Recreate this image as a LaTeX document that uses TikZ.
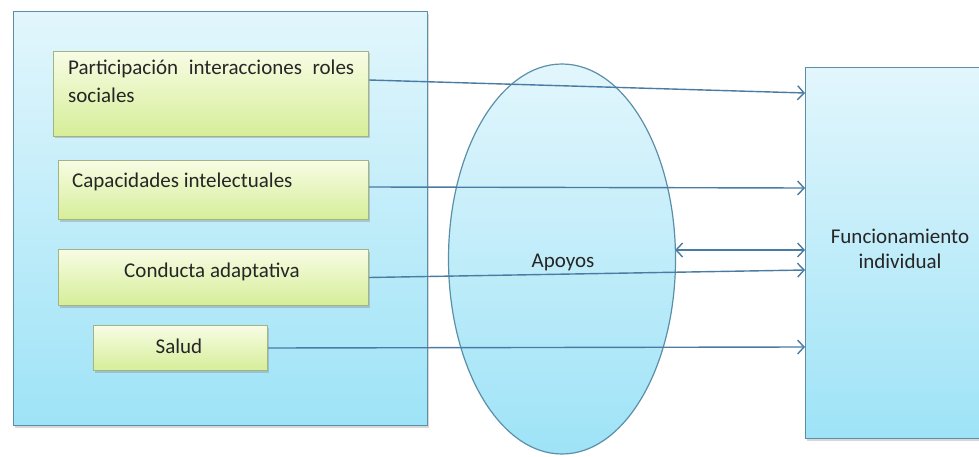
\documentclass[tikz,border=0pt]{standalone}
\usepackage{fontspec}
\setmainfont{Carlito}
\usetikzlibrary{arrows.meta,shapes.geometric,shadows}
\definecolor{bord}{HTML}{5B8FA8}
\definecolor{btop}{HTML}{E2F6FC}
\definecolor{bbot}{HTML}{9EE3F7}
\definecolor{gtop}{HTML}{F7FCE4}
\definecolor{gbot}{HTML}{D6EE98}
\definecolor{gbord}{HTML}{A3B383}
\definecolor{lin}{HTML}{4A7BA3}
\begin{document}
\begin{tikzpicture}[x=1pt,y=-1pt,
  font=\fontsize{21}{28}\selectfont,
  bluebox/.style={draw=bord, line width=1.2pt, top color=btop, bottom color=bbot, rectangle, anchor=north west, inner sep=0pt,
     drop shadow={shadow xshift=1pt, shadow yshift=-2pt, opacity=0.3}},
  greenbox/.style={draw=gbord, line width=1pt, top color=gtop, bottom color=gbot, rectangle, anchor=north west, inner sep=0pt,
     drop shadow={shadow xshift=1pt, shadow yshift=-2pt, opacity=0.35}},
  txt/.style={inner sep=0pt, text=black!85},
  arr/.style={draw=lin, line width=1.4pt, -{Straight Barb[length=6.5pt,width=14pt,line width=1.4pt]}},
  darr/.style={draw=lin, line width=1.4pt, {Straight Barb[length=6.5pt,width=14pt,line width=1.4pt]}-{Straight Barb[length=6.5pt,width=14pt,line width=1.4pt]}}
]
\useasboundingbox (0,0) rectangle (979,457);
\fill[white] (0,0) rectangle (979,457);

% left container
\node[bluebox, minimum width=414pt, minimum height=414pt] (L) at (13,11) {};

% green boxes
\node[greenbox, minimum width=315pt, minimum height=85pt] (g1) at (53,51) {};
\node[greenbox, minimum width=310pt, minimum height=59pt] (g2) at (58,160) {};
\node[greenbox, minimum width=310pt, minimum height=56pt] (g3) at (58,249) {};
\node[greenbox, minimum width=174pt, minimum height=45pt] (g4) at (93,325) {};

\node[txt, anchor=north west, text width=286pt, align=justify] (t1) at (68,60)
  {Participación interacciones roles sociales};
\node[txt, anchor=base west] (t2) at (72,188) {Capacidades intelectuales};
\node[txt, anchor=base] (t3) at (212,277) {Conducta adaptativa};
\node[txt, anchor=base] (t4) at (179,353) {Salud};

% ellipse
\node[ellipse, draw=bord, line width=1.2pt, top color=btop, bottom color=bbot,
      minimum width=227pt, minimum height=390pt, inner sep=0pt] (E) at (562,259) {};
\node[txt, anchor=base] (ta) at (563,267) {Apoyos};

% right box
\node[bluebox, minimum width=190pt, minimum height=371pt] (F) at (805,67) {};
\node[txt, anchor=base] (tf) at (900,243) {Funcionamiento};
\node[txt, anchor=base] (tf2) at (900,268) {individual};

% connector targets
\coordinate (y1) at (0,93);
\coordinate (y2) at (0,188);
\coordinate (y3) at (0,250);
\coordinate (y4) at (0,270);
\coordinate (y5) at (0,347);
\coordinate (s1) at (0,80);
\coordinate (s2) at (0,187);

\draw[arr] (g1.east |- s1) -- (F.west |- y1);
\draw[arr] (g2.east |- s2) -- (F.west |- y2);
\draw[arr] (g3.east) -- (F.west |- y4);
\draw[arr] (g4.east) -- (F.west |- y5);
\draw[darr] ([xshift=-1pt]E.east |- y3) -- (F.west |- y3);
\end{tikzpicture}
\end{document}
